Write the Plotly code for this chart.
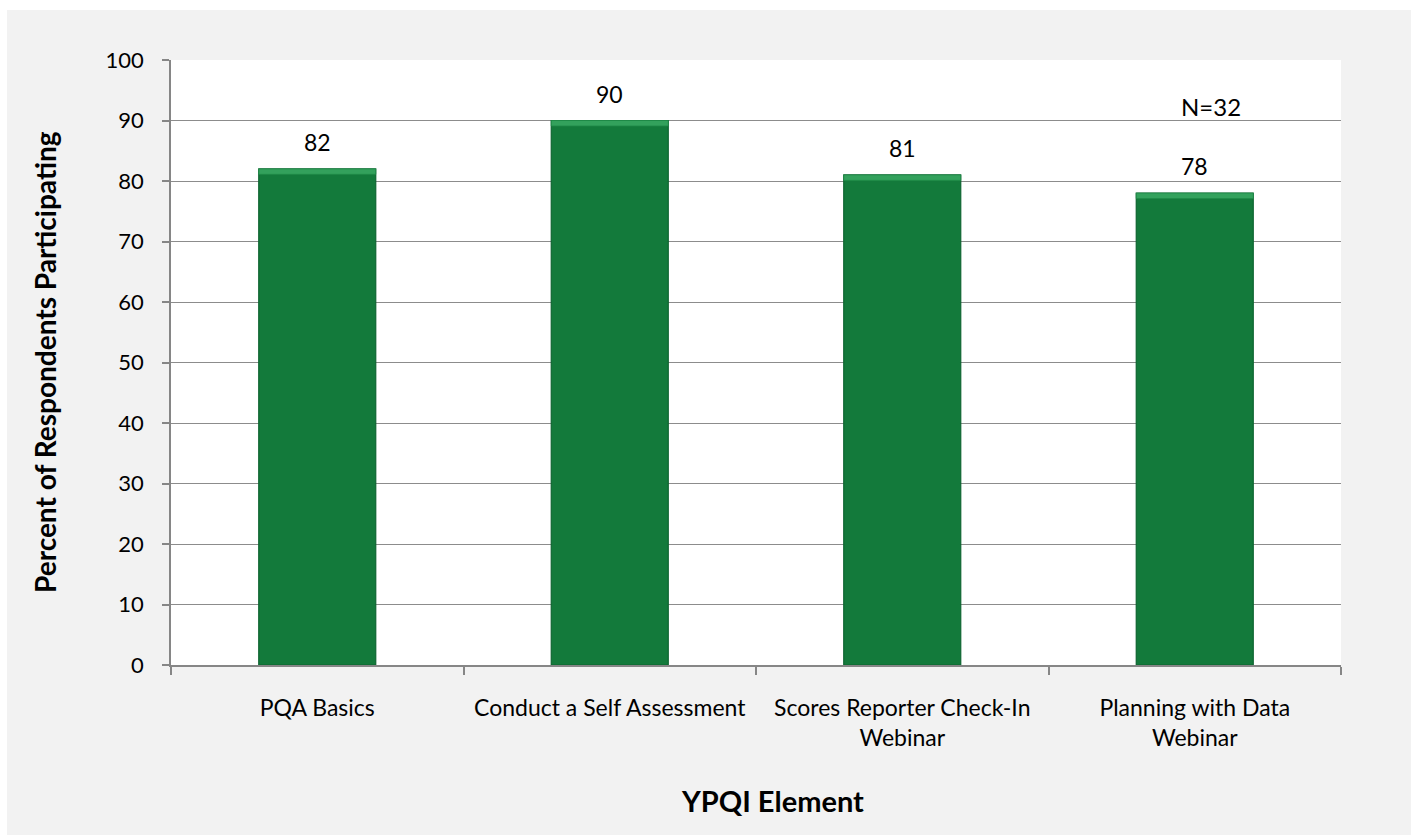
import plotly.graph_objects as go

# Participation by YPQI element
categories = [
    "PQA Basics",
    "Conduct a Self Assessment",
    "Scores Reporter Check-In<br>Webinar",
    "Planning with Data<br>Webinar",
]
percent_participating = [82, 90, 81, 78]
y_ticks = list(range(0, 101, 10))
sample_note = "N=32"

W, H = 1413, 835
L, R, T, B = 171, 72, 60, 170
PW, PH = W - L - R, H - T - B


def px_to_paper_x(px):
    return (px - L) / PW


def px_to_paper_y(py):
    return (H - B - py) / PH


FONT = "Lato"
BAR_GREEN = "#137a3b"

fig = go.Figure()

# main bars
fig.add_trace(go.Bar(
    x=categories,
    y=percent_participating,
    width=0.4,
    marker=dict(color=BAR_GREEN, line=dict(color="#0e6430", width=1.2)),
    hoverinfo="skip",
))

# lighter bevel strip along the top of each bar
bevel = 0.9
fig.add_trace(go.Bar(
    x=categories,
    y=[bevel] * len(percent_participating),
    base=[v - bevel for v in percent_participating],
    width=0.4,
    marker=dict(color="#33a15c", line=dict(color="#1f8a47", width=0.8)),
    hoverinfo="skip",
))

annotations = []
for cat, v in zip(categories, percent_participating):
    annotations.append(dict(
        x=cat, y=v, xref="x", yref="y", text=str(v), showarrow=False,
        yanchor="middle", yshift=27, font=dict(family=FONT, size=23, color="#000000"),
    ))

annotations += [
    dict(x=px_to_paper_x(1211), y=px_to_paper_y(106), xref="paper", yref="paper",
         text=sample_note, showarrow=False, xanchor="center", yanchor="middle",
         font=dict(family=FONT, size=24, color="#000000")),
    dict(x=px_to_paper_x(45), y=px_to_paper_y(362), xref="paper", yref="paper",
         text="<b>Percent of Respondents Participating</b>", textangle=-90, showarrow=False,
         xanchor="center", yanchor="middle",
         font=dict(family=FONT, size=28, color="#000000")),
    dict(x=px_to_paper_x(773), y=px_to_paper_y(800), xref="paper", yref="paper",
         text="<b>YPQI Element</b>", showarrow=False, xanchor="center", yanchor="middle",
         font=dict(family=FONT, size=29, color="#000000")),
]

shapes = [
    # chart-area background panel
    dict(type="rect", xref="paper", yref="paper", layer="below",
         x0=px_to_paper_x(7), x1=px_to_paper_x(1411),
         y0=px_to_paper_y(835), y1=px_to_paper_y(10),
         fillcolor="#f2f2f2", line=dict(width=0)),
    # white plotting area
    dict(type="rect", xref="paper", yref="paper", layer="below",
         x0=0, x1=1, y0=0, y1=1, fillcolor="#ffffff", line=dict(width=0)),
]

fig.update_layout(
    width=W, height=H,
    margin=dict(l=L, r=R, t=T, b=B, pad=0, autoexpand=False),
    paper_bgcolor="#ffffff",
    plot_bgcolor="rgba(0,0,0,0)",
    showlegend=False,
    barmode="overlay",
    font=dict(family=FONT, color="#000000"),
    annotations=annotations,
    shapes=shapes,
)

fig.update_xaxes(
    type="category",
    automargin=False,
    tickangle=0,
    showline=True, linecolor="#868686", linewidth=1.5,
    ticks="outside", tickson="boundaries", ticklen=8, tickcolor="#868686", tickwidth=1.5,
    tickfont=dict(family=FONT, size=23, color="#000000"),
    ticklabelstandoff=22,
    showgrid=False,
)

fig.update_yaxes(
    range=[0, 100],
    automargin=False,
    tickvals=y_ticks,
    showline=True, linecolor="#868686", linewidth=1.5,
    ticks="outside", ticklen=7, tickcolor="#868686", tickwidth=1.5,
    tickfont=dict(family=FONT, size=22, color="#000000"),
    ticklabelstandoff=14,
    showgrid=True, gridcolor="#8c8c8c", gridwidth=1,
    zeroline=False,
)

fig.write_html("out.html")
